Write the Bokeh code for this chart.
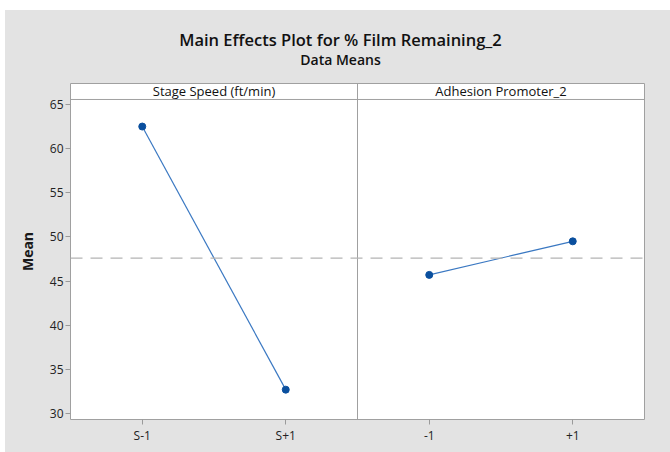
from bokeh.plotting import figure
from bokeh.models import FactorRange, Range1d, Span, Label, FixedTicker, Div
from bokeh.layouts import column
from bokeh.embed import file_html
from bokeh.resources import INLINE

# Main effects data (data means)
title_text = "Main Effects Plot for % Film Remaining_2"
subtitle_text = "Data Means"
factor_names = ["Stage Speed (ft/min)", "Adhesion Promoter_2"]
speed_levels = ["S-1", "S+1"]
speed_means = [62.5, 32.7]
adhesion_levels = ["-1", "+1"]
adhesion_means = [45.7, 49.5]
y_ticks = [30, 35, 40, 45, 50, 55, 60, 65]

grand_mean = (sum(speed_means) + sum(adhesion_means)) / 4.0

FONT = "Open Sans"
BG = "#e3e3e3"
FRAME = "#a0a0a0"
LINE_BLUE = "#3a78c2"
DOT_BLUE = "#0a4f9e"

y_top = 67.375
y_bottom = 29.32
header_bottom = 65.566

# heading block above the panels
heading = Div(
    text=(f'<div style="font-family:\'{FONT}\';font-weight:600;color:#111;'
          f'text-align:center;width:665px;padding:20px 0 0 6px;box-sizing:border-box;">'
          f'<div style="font-size:16.5px;line-height:20px;">{title_text}</div>'
          f'<div style="font-size:14px;line-height:17px;margin-top:1px;">{subtitle_text}</div></div>'),
    width=665, height=63, margin=0,
    styles={"background-color": BG},
)

p = figure(
    width=665, height=379,
    x_range=FactorRange(*(speed_levels + adhesion_levels), range_padding=0),
    y_range=Range1d(y_bottom, y_top),
    output_backend="svg", toolbar_location=None,
    min_border_left=65, min_border_right=26,
    min_border_top=10, min_border_bottom=33,
    margin=0,
)
p.border_fill_color = BG
p.background_fill_color = "white"
p.outline_line_color = FRAME
p.outline_line_width = 1
p.xgrid.visible = False
p.ygrid.visible = False

# axes
p.yaxis.ticker = FixedTicker(ticks=y_ticks)
p.yaxis.axis_label = "Mean"
p.yaxis.axis_label_text_font = FONT
p.yaxis.axis_label_text_font_size = "14px"
p.yaxis.axis_label_text_font_style = "bold"
p.yaxis.axis_label_text_color = "#1a1a1a"
p.yaxis.axis_label_standoff = 10
for ax in (p.xaxis, p.yaxis):
    ax.axis_line_color = None
    ax.major_tick_line_color = "#9a9a9a"
    ax.major_tick_in = 0
    ax.major_tick_out = 5
    ax.minor_tick_line_color = None
    ax.major_label_text_font = FONT
    ax.major_label_text_font_size = "12px"
    ax.major_label_text_color = "#222222"
    ax.major_label_standoff = 2

# panel divider, strip header line, grand mean reference
p.add_layout(Span(location=2, dimension="height", line_color=FRAME, line_width=1))
p.add_layout(Span(location=header_bottom, dimension="width", line_color=FRAME, line_width=1))
p.add_layout(Span(location=grand_mean, dimension="width", line_color="#b4b4b4",
                  line_width=1.3, line_dash="12 8"))

# effect lines
p.line(speed_levels, speed_means, line_color=LINE_BLUE, line_width=1.2)
p.scatter(speed_levels, speed_means, size=7, color=DOT_BLUE)
p.line(adhesion_levels, adhesion_means, line_color=LINE_BLUE, line_width=1.2)
p.scatter(adhesion_levels, adhesion_means, size=7, color=DOT_BLUE)

# strip headers
for i, name in enumerate(factor_names):
    p.add_layout(Label(x=1 + 2 * i, y=(header_bottom + y_top) / 2, text=name,
                       text_align="center", text_baseline="middle",
                       text_font=FONT, text_font_size="13px", text_color="#111111"))

layout = column(heading, p, margin=(10, 0, 0, 5), spacing=0,
                styles={"background-color": BG})

open("out.html", "w").write(file_html(layout, INLINE))
